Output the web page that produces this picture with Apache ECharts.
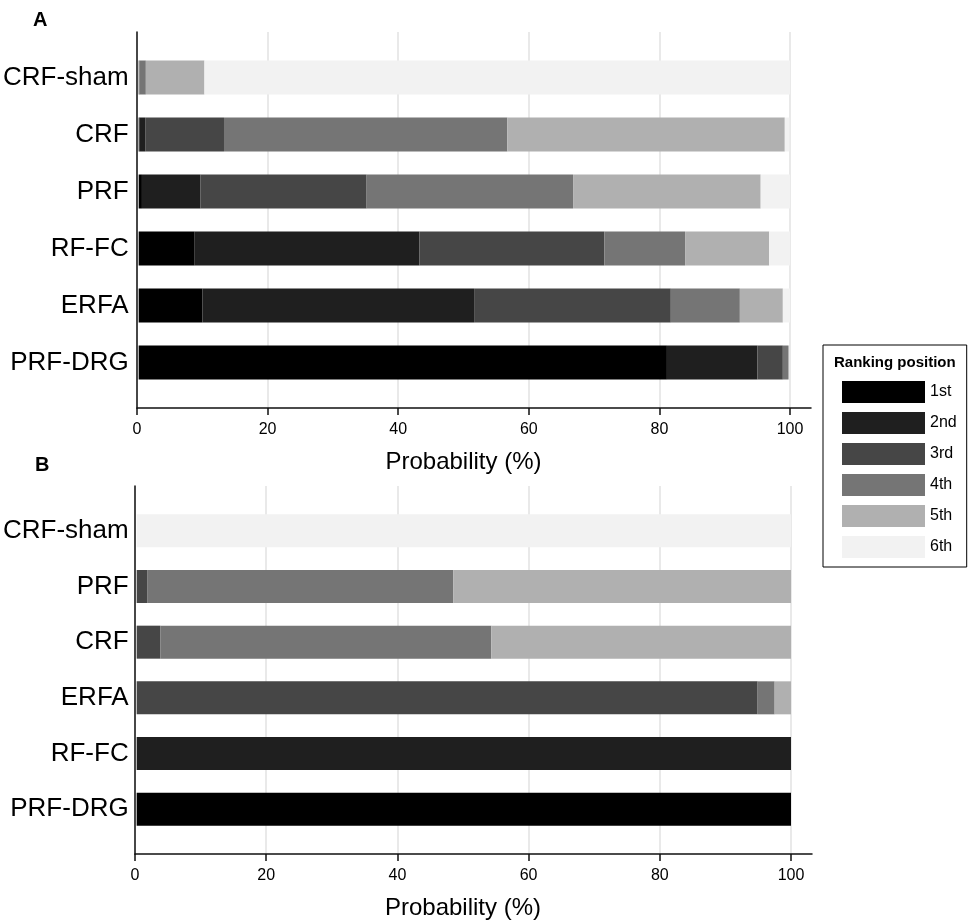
<!DOCTYPE html>
<html>
<head>
<meta charset="utf-8">
<script src="https://cdn.jsdelivr.net/npm/echarts@6/dist/echarts.min.js"></script>
<style>
  html, body { margin: 0; padding: 0; background: #fff; }
  #chart { width: 972px; height: 922px; }
</style>
</head>
<body>
<div id="chart"></div>
<script>
// ranking names and their grey shades
const ranks = ['1st', '2nd', '3rd', '4th', '5th', '6th'];
const rankColors = ['#000000', '#1f1f1f', '#464646', '#757575', '#b0b0b0', '#f2f2f2'];

// panel A
const catsA = ['CRF-sham', 'CRF', 'PRF', 'RF-FC', 'ERFA', 'PRF-DRG'];
const a1st = [0, 0.1, 0.5, 8.6, 9.8, 81.1];
const a2nd = [0, 0.9, 9.0, 34.5, 41.7, 13.9];
const a3rd = [0.1, 12.1, 25.5, 28.4, 30.2, 3.9];
const a4th = [1.0, 43.5, 31.7, 12.4, 10.6, 0.8];
const a5th = [9.0, 42.6, 28.8, 12.9, 6.6, 0.2];
const a6th = [89.9, 0.7, 4.5, 3.2, 1.1, 0.1];

// panel B
const catsB = ['CRF-sham', 'PRF', 'CRF', 'ERFA', 'RF-FC', 'PRF-DRG'];
const b1st = [0, 0, 0, 0, 0, 100];
const b2nd = [0, 0, 0, 0, 100, 0];
const b3rd = [0, 1.6, 3.6, 94.9, 0, 0];
const b4th = [0, 46.8, 50.6, 2.6, 0, 0];
const b5th = [0, 51.6, 45.8, 2.5, 0, 0];
const b6th = [100, 0, 0, 0, 0, 0];

const xTicks = [0, 20, 40, 60, 80, 100];

const FONT = '"Liberation Sans", Arial, Helvetica, sans-serif';

const chart = echarts.init(document.getElementById('chart'), null, { renderer: 'canvas' });

// each panel: frame grid (axis lines), tick grid (ticks, labels, gridlines), bar grid
function panel(idx, p) {
  const g0 = idx * 3;
  const grids = [
    { left: p.left, top: p.top, width: p.lineW, height: p.h },
    { left: p.left, top: p.top, width: p.w, height: p.h },
    { left: p.left, top: p.top + p.pad, width: p.w, height: p.h - 2 * p.pad }
  ];
  const lineStyle = { color: '#111', width: 1.5 };
  const xAxes = [
    { gridIndex: g0, type: 'value', min: 0, max: 1, z: 10,
      axisLine: { show: true, lineStyle }, axisTick: { show: false },
      axisLabel: { show: false }, splitLine: { show: false } },
    { gridIndex: g0 + 1, type: 'value', min: xTicks[0], max: xTicks[xTicks.length - 1],
      interval: xTicks[1] - xTicks[0],
      axisLine: { show: false },
      axisTick: { show: true, length: 7, lineStyle },
      axisLabel: { fontSize: 16, color: '#000', fontFamily: FONT, margin: 14 },
      splitLine: { show: true, lineStyle: { color: '#e2e2e2', width: 1.5 } },
      name: 'Probability (%)', nameLocation: 'middle', nameGap: 42,
      nameTextStyle: { fontSize: 24, color: '#000', fontFamily: FONT } },
    { gridIndex: g0 + 2, type: 'value', min: 0, max: 100, show: false }
  ];
  const yAxes = [
    { gridIndex: g0, type: 'value', min: 0, max: 1, z: 10,
      axisLine: { show: true, lineStyle }, axisTick: { show: false },
      axisLabel: { show: false }, splitLine: { show: false } },
    { gridIndex: g0 + 1, type: 'value', min: 0, max: 1, show: false },
    { gridIndex: g0 + 2, type: 'category', data: p.cats, inverse: true,
      axisLine: { show: false }, axisTick: { show: false },
      axisLabel: { fontSize: 26, color: '#000', fontFamily: FONT, margin: p.labelMargin } }
  ];
  const series = p.values.map((vals, i) => ({
    type: 'bar',
    name: ranks[i],
    stack: 'panel' + idx,
    xAxisIndex: g0 + 2,
    yAxisIndex: g0 + 2,
    barWidth: p.barW,
    data: vals,
    itemStyle: { color: rankColors[i] },
    silent: true
  }));
  return { grids, xAxes, yAxes, series };
}

const pA = panel(0, {
  left: 137, top: 32, h: 376, pad: 17, w: 653, lineW: 674, barW: 34, labelMargin: 10,
  cats: catsA, values: [a1st, a2nd, a3rd, a4th, a5th, a6th]
});
const pB = panel(1, {
  left: 135, top: 486, h: 368, pad: 17, w: 656, lineW: 677, barW: 33, labelMargin: 8,
  cats: catsB, values: [b1st, b2nd, b3rd, b4th, b5th, b6th]
});

const option = {
  backgroundColor: '#fff',
  animation: false,
  textStyle: { fontFamily: FONT },
  grid: pA.grids.concat(pB.grids),
  xAxis: pA.xAxes.concat(pB.xAxes),
  yAxis: pA.yAxes.concat(pB.yAxes),
  series: pA.series.concat(pB.series),
  legend: {
    data: ranks,
    orient: 'vertical',
    left: 823,
    top: 345,
    padding: [36, 10, 9, 19],
    itemWidth: 83,
    itemHeight: 22,
    itemGap: 9,
    icon: 'rect',
    selectedMode: false,
    borderColor: '#000',
    borderWidth: 1,
    textStyle: { fontSize: 16, color: '#000', fontFamily: FONT }
  },
  graphic: [
    { type: 'text', left: 33, top: 10,
      style: { text: 'A', font: 'bold 20px ' + FONT, fill: '#000' } },
    { type: 'text', left: 35, top: 455,
      style: { text: 'B', font: 'bold 20px ' + FONT, fill: '#000' } },
    { type: 'text', left: 834, top: 355,
      style: { text: 'Ranking position', font: 'bold 15px ' + FONT, fill: '#000' } }
  ]
};

chart.setOption(option);
</script>
</body>
</html>
